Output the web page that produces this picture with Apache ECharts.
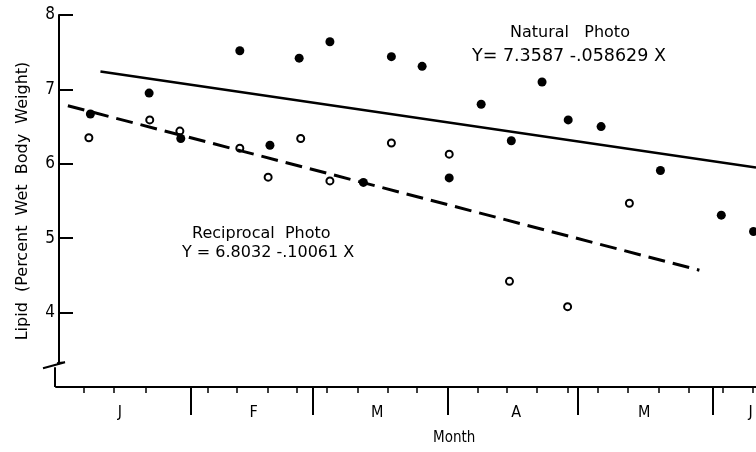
<!DOCTYPE html>
<html>
<head>
<meta charset="utf-8">
<script src="https://cdn.jsdelivr.net/npm/echarts@6/dist/echarts.min.js"></script>
<style>
  html, body { margin: 0; padding: 0; background: #fff; }
  #chart { width: 756px; height: 452px; }
</style>
</head>
<body>
<div id="chart"></div>
<script>
// x is in weeks from the start of January
var natWeek  = [1.13, 3.06, 4.10, 6.04, 7.03, 7.99, 9.00, 10.10, 11.02, 12.03, 12.92, 13.97, 14.96, 15.97, 16.83, 17.91, 19.86, 21.86, 22.92];
var natLipid = [6.67, 6.95, 6.34, 7.52, 6.25, 7.42, 7.64, 5.75, 7.44, 7.31, 5.81, 6.80, 6.31, 7.10, 6.59, 6.50, 5.91, 5.31, 5.09];
var recWeek  = [1.08, 3.08, 4.07, 6.04, 6.97, 8.04, 9.00, 11.02, 12.92, 14.90, 16.81, 18.84];
var recLipid = [6.35, 6.59, 6.44, 6.21, 5.82, 6.34, 5.77, 6.28, 6.13, 4.42, 4.08, 5.47];

// regression line end points
var natLine = [[1.46, 7.24], [23.0, 5.95]];
var recLine = [[0.39, 6.78], [21.14, 4.57]];

var monthEdges = [4.43, 8.43, 12.86, 17.14, 21.57];
var monthPos   = [2.1, 6.49, 10.55, 15.12, 19.33, 22.82];
var monthNames = ['J', 'F', 'M', 'A', 'M', 'J'];
var weekTicks  = [0.9, 1.9, 2.95, 5.0, 5.95, 6.95, 7.9, 8.9, 9.9, 10.9, 11.85, 13.85, 14.8, 15.8, 16.8, 17.8, 18.8, 19.8, 20.8, 21.9, 22.9];
var yTicks     = [4, 5, 6, 7, 8];
var yBreak     = 3.28;

var FONT = 'DejaVu Sans Condensed';
var WIDE = 'DejaVu Sans';

function pair(xs, ys) {
    return xs.map(function (x, i) { return [x, ys[i]] })
}

var chart = echarts.init(document.getElementById('chart'))

var option = {
    animation: false,
    backgroundColor: '#fff',
    grid: { left: 56, right: 0, top: 15, bottom: 65 },
    xAxis: [
        {
            type: 'value',
            min: 0,
            max: 23,
            splitLine: { show: false },
            axisLine: { lineStyle: { color: '#000', width: 2 } },
            axisTick: {
                customValues: monthEdges,
                length: 28,
                lineStyle: { color: '#000', width: 2 }
            },
            axisLabel: {
                customValues: monthPos,
                margin: 18,
                color: '#000',
                fontFamily: FONT,
                fontSize: 16,
                formatter: function (v) {
                    var i = monthPos.indexOf(v)
                    return i >= 0 ? monthNames[i] : ''
                }
            }
        },
        {
            type: 'value',
            position: 'bottom',
            min: 0,
            max: 23,
            splitLine: { show: false },
            axisLine: { show: false },
            axisLabel: { show: false },
            axisTick: {
                customValues: weekTicks,
                length: 6,
                lineStyle: { color: '#000', width: 1.5 }
            }
        }
    ],
    yAxis: {
        type: 'value',
        min: 3,
        max: 8,
        offset: -3,
        splitLine: { show: false },
        axisLine: { lineStyle: { color: '#000', width: 2 } },
        axisTick: {
            customValues: yTicks,
            inside: true,
            length: 14,
            lineStyle: { color: '#000', width: 2 }
        },
        axisLabel: {
            customValues: yTicks,
            margin: 4,
            color: '#000',
            fontFamily: FONT,
            fontSize: 17
        },
        name: 'Lipid  (Percent  Wet  Body  Weight)',
        nameLocation: 'middle',
        nameGap: 28,
        nameTextStyle: { color: '#000', fontFamily: WIDE, fontSize: 16 }
    },
    series: [
        {
            type: 'line',
            data: natLine,
            showSymbol: false,
            lineStyle: { color: '#000', width: 2.5 }
        },
        {
            type: 'line',
            data: recLine,
            showSymbol: false,
            lineStyle: { color: '#000', width: 3, type: [17, 8] }
        },
        {
            type: 'scatter',
            data: pair(natWeek, natLipid),
            symbol: 'circle',
            symbolSize: 9,
            itemStyle: { color: '#000', opacity: 1 }
        },
        {
            type: 'scatter',
            data: pair(recWeek, recLipid),
            symbol: 'circle',
            symbolSize: 7,
            itemStyle: { color: '#fff', borderColor: '#000', borderWidth: 2, opacity: 1 }
        },
        {
            // axis break on the y axis
            type: 'custom',
            silent: true,
            data: [[0, yBreak]],
            renderItem: function (params, api) {
                var top = api.coord([0, yBreak])
                var bot = api.coord([0, 3])
                var x = top[0]
                var y = top[1]
                return {
                    type: 'group',
                    children: [
                        { type: 'rect', shape: { x: x - 2, y: y - 2, width: 8, height: bot[1] - y + 1 }, style: { fill: '#fff' } },
                        { type: 'polyline', shape: { points: [[x + 1, y - 3], [x + 9, y - 4], [x - 13, y + 2]] }, style: { stroke: '#000', lineWidth: 2, fill: null } },
                        { type: 'line', shape: { x1: x - 1, y1: y + 1, x2: x - 1, y2: bot[1] }, style: { stroke: '#000', lineWidth: 2 } }
                    ]
                }
            }
        }
    ],
    graphic: [
        { type: 'text', left: 510, top: 25, style: { text: 'Natural   Photo', fill: '#000', font: '16px "DejaVu Sans"' } },
        { type: 'text', left: 472, top: 47, style: { text: 'Y= 7.3587 -.058629 X', fill: '#000', font: '17.5px "DejaVu Sans"' } },
        { type: 'text', left: 192, top: 226, style: { text: 'Reciprocal  Photo', fill: '#000', font: '16px "DejaVu Sans"' } },
        { type: 'text', left: 182, top: 245, style: { text: 'Y = 6.8032 -.10061 X', fill: '#000', font: '16px "DejaVu Sans"' } },
        { type: 'text', left: 433, top: 431, style: { text: 'Month', fill: '#000', font: '15px "DejaVu Sans Condensed"' } }
    ]
}

chart.setOption(option)
</script>
</body>
</html>
